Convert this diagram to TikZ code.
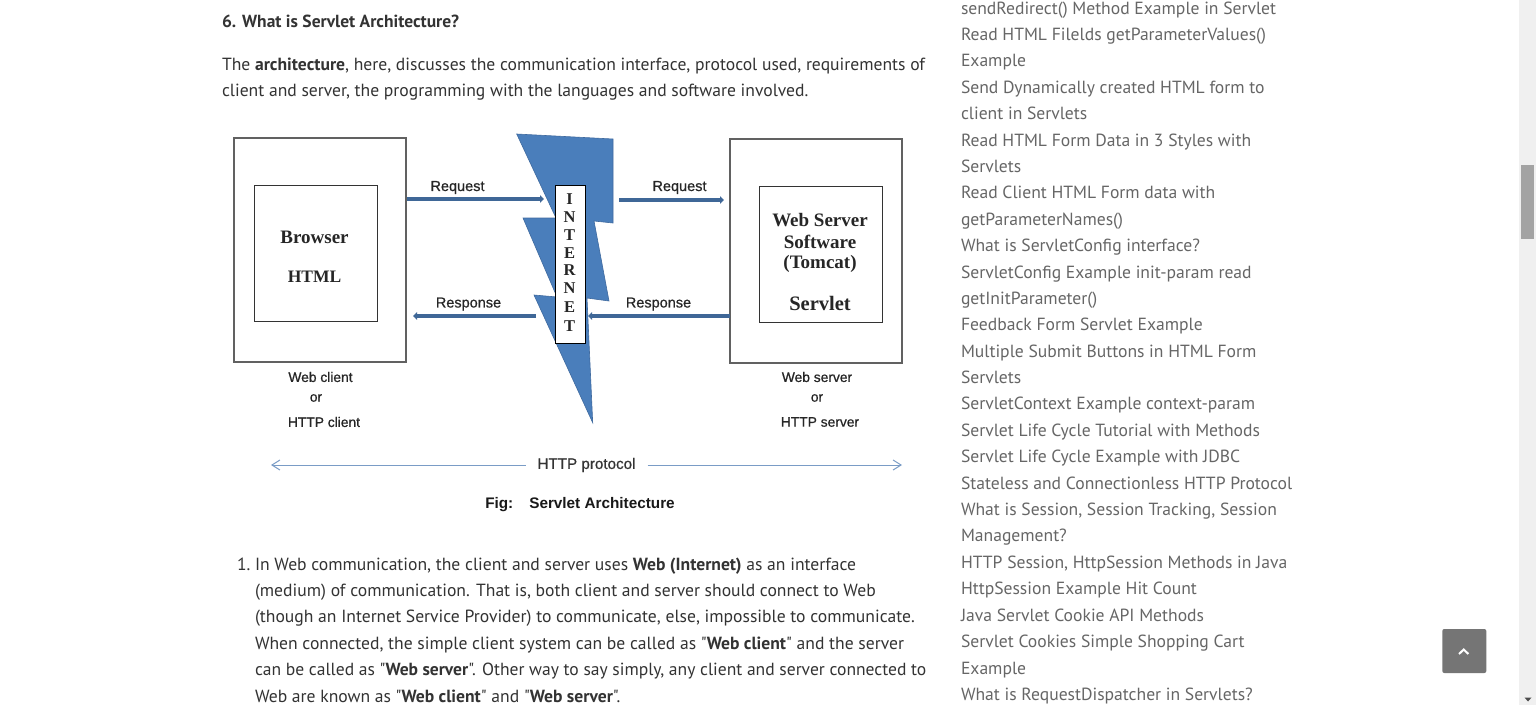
\documentclass[tikz,border=0pt]{standalone}
\usepackage{fontspec}
\setmainfont{Liberation Sans}
\newfontfamily\webfont{PT Sans}
\newfontfamily\figserif{Liberation Serif}
\newfontfamily\labfont[FakeBold=0.7]{Liberation Sans}
\usetikzlibrary{arrows.meta}
\definecolor{bodytxt}{HTML}{333333}
\definecolor{linktxt}{HTML}{666666}
\definecolor{boltblue}{HTML}{4A7EBB}
\definecolor{boltedge}{HTML}{3F6A9F}
\definecolor{arrowblue}{HTML}{3F6797}
\definecolor{thinblue}{HTML}{7A9CC6}
\tikzset{
  x=1pt,y=-1pt,
  every node/.style={inner sep=0pt,outer sep=0pt},
  body/.style={anchor=base west,font=\webfont\fontsize{17.6}{20}\selectfont,text=bodytxt},
  side/.style={anchor=base west,font=\webfont\fontsize{17.6}{20}\selectfont,text=linktxt},
  outerbox/.style={draw=black!62,line width=1.1pt,fill=white,minimum width=172pt,minimum height=224pt},
  innerbox/.style={draw=black!80,line width=1pt,fill=white,minimum width=123pt,minimum height=136pt},
  serifbold/.style={font=\figserif\bfseries\fontsize{19}{20}\selectfont,text=black!85},
  lab/.style={font=\labfont\fontsize{14.5}{17}\selectfont,text=black!85},
  lowlab/.style={font=\labfont\fontsize{13.8}{17}\selectfont,text=black!85},
  flowarrow/.style={draw=arrowblue,line width=3.6pt,-{Triangle[length=4pt,width=7.5pt]}},
  thinarrow/.style={draw=thinblue,line width=1pt,-{Straight Barb[length=8pt,width=10pt]}},
}
\begin{document}
\begin{tikzpicture}
\useasboundingbox (0,0) rectangle (1536,705);
\fill[white] (0,0) rectangle (1536,705);
% main text
\node[body,font=\webfont\bfseries\fontsize{17.5}{20}\selectfont] (h) at (222,27) {6. What is Servlet Architecture?};
\node[body] (p1) at (222,70) {The \textbf{architecture}, here, discusses the communication interface, protocol used, requirements of};
\node[body] (p2) at (222,96.5) {client and server, the programming with the languages and software involved.};
% bolt
\fill[boltblue,draw=boltedge,line width=.6pt] (516.7,134) -- (613,139) -- (613,223) -- (594,221) -- (609,301) -- (587,298) -- (592.7,422.7) -- (534,295) -- (557,297) -- (523,218) -- (556,218) -- cycle;
% boxes
\node[outerbox] (co) at (320,250) {};
\node[innerbox] (ci) at (315.5,253) {};
\node[outerbox] (so) at (816,251) {};
\node[innerbox] (si) at (820.5,254) {};
\node[draw=black,line width=1pt,fill=white,minimum width=30pt,minimum height=158pt] (net) at (570,264) {};
\foreach \l/\y in {I/199.5,N/217,T/235,E/253,R/270,N/288,E/307,T/326}
  \node[serifbold,font=\figserif\bfseries\fontsize{16.5}{20}\selectfont] (net\y) at (569.5,\y) {\l};
\node[serifbold] (b1) at (314.5,237) {Browser};
\node[serifbold,font=\figserif\bfseries\fontsize{17.5}{20}\selectfont] (b2) at (314.5,277) {HTML};
\node[serifbold] (w1) at (820,220.5) {Web Server};
\node[serifbold] (w2) at (820,241.5) {Software};
\node[serifbold] (w3) at (820,263.5) {(Tomcat)};
\node[serifbold,font=\figserif\bfseries\fontsize{20.5}{20}\selectfont] (w4) at (820,303.5) {Servlet};
% connectors
\coordinate (a1s) at (407,199); \coordinate (a1e) at (544,199);
\coordinate (a2s) at (619,200); \coordinate (a2e) at (724,200);
\coordinate (a3s) at (730,316); \coordinate (a3e) at (588,316);
\coordinate (a4s) at (536,316); \coordinate (a4e) at (413,316);
\draw[flowarrow] (a1s) -- (a1e);
\draw[flowarrow] (a2s) -- (a2e);
\draw[flowarrow] (a3s) -- (a3e);
\draw[flowarrow] (a4s) -- (a4e);
\node[lab] (r1) at (457.5,187.5) {Request};
\node[lab] (r2) at (679.5,187.5) {Request};
\node[lab] (r3) at (468.5,304) {Response};
\node[lab] (r4) at (658.5,304) {Response};
\node[lowlab] (c1) at (320.5,377) {Web client};
\node[lowlab] (c2) at (316,398) {or};
\node[lowlab] (c3) at (324,422) {HTTP client};
\node[lowlab] (s1) at (817,377) {Web server};
\node[lowlab] (s2) at (817,398) {or};
\node[lowlab] (s3) at (820,422) {HTTP server};
\node[lab,font=\labfont\fontsize{15.2}{17}\selectfont,text=black!80] (http) at (586.5,465) {HTTP protocol};
\coordinate (hl) at (271,465); \coordinate (hr) at (902,465);
\draw[thinarrow] (http.west)++(-12,0) -- (hl);
\draw[thinarrow] (http.east)++(12,0) -- (hr);
\node[font=\bfseries\fontsize{15.3}{17}\selectfont,text=black!90] (fig) at (580,504.5) {Fig:\hspace{16pt}Servlet Architecture};
% list
\node[body] (n1) at (237,570) {1.};
\node[body] (l1) at (255,570) {In Web communication, the client and server uses \textbf{Web (Internet)} as an interface};
\node[body] (l2) at (255,596) {(medium) of communication. That is, both client and server should connect to Web};
\node[body] (l3) at (255,622.5) {(though an Internet Service Provider) to communicate, else, impossible to communicate.};
\node[body] (l4) at (255,649) {When connected, the simple client system can be called as "\textbf{Web client}" and the server};
\node[body,font=\webfont\fontsize{17.55}{20}\selectfont] (l5) at (255,675.5) {can be called as "\textbf{Web server}". Other way to say simply, any client and server connected to};
\node[body] (l6) at (255,702) {Web are known as "\textbf{Web client}" and "\textbf{Web server}".};
% sidebar
\foreach \t/\y in {sendRedirect() Method Example in Servlet/14,
 Read HTML Filelds getParameterValues()/40,
 Example/66.5,
 Send Dynamically created HTML form to/93,
 client in Servlets/119.5,
 Read HTML Form Data in 3 Styles with/146,
 Servlets/172,
 Read Client HTML Form data with/198.5,
 getParameterNames()/225,
 What is ServletConfig interface?/251.5,
 ServletConfig Example init-param read/278,
 getInitParameter()/304,
 Feedback Form Servlet Example/330.5,
 Multiple Submit Buttons in HTML Form/357,
 Servlets/383,
 ServletContext Example context-param/409.5,
 Servlet Life Cycle Tutorial with Methods/436,
 Servlet Life Cycle Example with JDBC/462.5,
 Stateless and Connectionless HTTP Protocol/489,
 What is Session{,} Session Tracking{,} Session/515,
 Management?/541.5,
 HTTP Session{,} HttpSession Methods in Java/568,
 HttpSession Example Hit Count/594.5,
 Java Servlet Cookie API Methods/621,
 Servlet Cookies Simple Shopping Cart/647.5,
 Example/674,
 What is RequestDispatcher in Servlets?/700}
 \node[side] at (961,\y) {\t};
% scrollbar and button
\fill[black!6] (1519,0) rectangle (1536,705);
\fill[black!36] (1521,165) rectangle (1534,239);
\fill[black!70] (1524.5,697.5) -- (1531.5,697.5) -- (1528,701.5) -- cycle;
\fill[black!54,rounded corners=2pt] (1442.3,629) rectangle (1486.3,673);
\draw[white,line width=2pt] (1459,654) -- (1463.7,649.5) -- (1468.4,654);
\end{tikzpicture}
\end{document}
